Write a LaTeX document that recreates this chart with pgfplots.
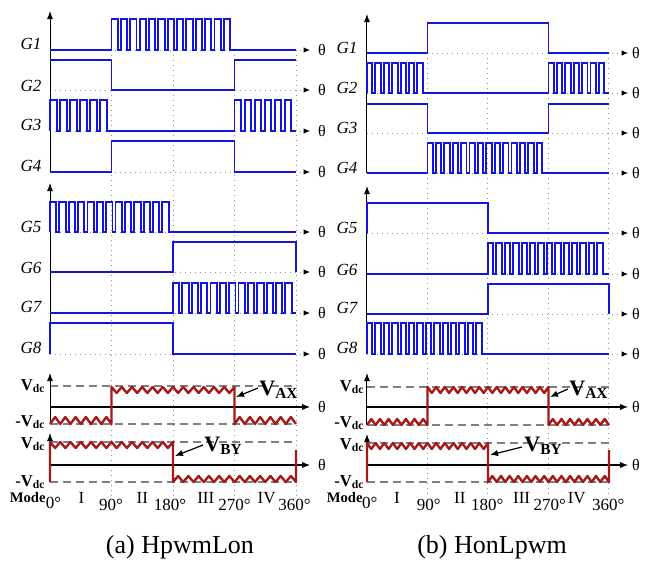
\documentclass[border=0pt]{standalone}
\usepackage{fontspec}
\setmainfont{Liberation Serif}
\usepackage{pgfplots}
\pgfplotsset{compat=1.18}
\usetikzlibrary{arrows.meta}
\definecolor{sigblue}{RGB}{20,20,225}
\definecolor{vred}{RGB}{165,25,25}
\pgfplotsset{
  panel/.style={scale only axis, width=162.5pt, height=281.5pt, ymin=0, ymax=563, y dir=reverse, axis lines=none, clip=false},
  sg/.style={draw=sigblue, line width=0.95pt, const plot, mark=none},
  vw/.style={draw=vred, line width=1.2pt, mark=none, line join=round},
  dl/.style={draw=gray!85, line width=0.5pt, dotted, mark=none},
  dashl/.style={draw=gray, line width=0.7pt, dash pattern=on 4pt off 2.5pt, mark=none},
  ax/.style={draw=black, line width=0.5pt, mark=none, -{Latex[length=4pt,width=3pt]}},
  tharr/.style={dl, -{Latex[length=3.2pt,width=2.8pt,color=black]}},
  zarr/.style={draw=black, line width=0.6pt, mark=none, -{Latex[length=4pt,width=3.2pt]}},
}
\newcommand\gf{\fontsize{8.5}{10}\selectfont\itshape}
\newcommand\tf{\fontsize{8}{9}\selectfont}
\newcommand\vf{\fontsize{8.3}{9}\selectfont\bfseries}
\newcommand\modef{\fontsize{7.3}{9}\selectfont\bfseries}
\newcommand\bigv{\fontsize{11}{12}\selectfont\bfseries}
\newcommand\mf{\fontsize{8.5}{10}\selectfont}
\newcommand\capf{\fontsize{13}{15}\selectfont}
\begin{document}
\begin{tikzpicture}
\useasboundingbox (0,0) rectangle (325pt,281.5pt);
%%%%%%%%%%%%%%%%%%%%%%%%%% LEFT PANEL
\begin{axis}[panel, at={(0pt,0pt)}, anchor=south west, xmin=-73.17, xmax=402.4]
\addplot[dl] coordinates {(90,50)(90,497)};
\addplot[dl] coordinates {(180,50)(180,497)};
\addplot[dl] coordinates {(270,50)(270,497)};
\addplot[dl] coordinates {(360,50)(360,497)};
\addplot[tharr] coordinates {(0,50)(380.5,50)};
\addplot[tharr] coordinates {(0,90)(380.5,90)};
\addplot[tharr] coordinates {(0,131)(380.5,131)};
\addplot[tharr] coordinates {(0,172)(380.5,172)};
\addplot[tharr] coordinates {(0,232)(380.5,232)};
\addplot[tharr] coordinates {(0,272)(380.5,272)};
\addplot[tharr] coordinates {(0,313)(380.5,313)};
\addplot[tharr] coordinates {(0,354)(380.5,354)};
\addplot[dashl] coordinates {(0,386)(360,386)};
\addplot[dashl] coordinates {(0,424)(360,424)};
\addplot[dashl] coordinates {(0,442)(360,442)};
\addplot[dashl] coordinates {(0,482)(360,482)};
\addplot[ax] coordinates {(0,173)(0,11)};
\addplot[ax] coordinates {(0,354)(0,183)};
\addplot[ax] coordinates {(0,424)(0,373)};
\addplot[ax] coordinates {(0,482)(0,433)};
\addplot[zarr] coordinates {(0,407)(380.5,407)};
\addplot[zarr] coordinates {(0,465)(380.5,465)};
% G1
\addplot[sg] coordinates {(0,50)(90,19)(99.2,50)(103.7,19)(112.9,50)(117.4,19)(126.6,50)(131.1,19)(140.3,50)(144.8,19)(154,50)(158.5,19)(167.7,50)(172.2,19)(181.4,50)(185.9,19)(195.1,50)(199.6,19)(208.8,50)(213.3,19)(222.5,50)(227,19)(236.2,50)(240.7,19)(249.9,50)(254.4,19)(263.6,50)(360,50)};
% G2
\addplot[sg] coordinates {(0,60)(90,90)(270,60)(360,60)};
% G3
\addplot[sg] coordinates {(0,131)(0,100)(9.6,131)(14.7,100)(24.3,131)(29.4,100)(39,131)(44.1,100)(53.7,131)(58.8,100)(68.4,131)(73.5,100)(83.1,131)(270,100)(279.6,131)(284.7,100)(294.3,131)(299.4,100)(309,131)(314.1,100)(323.7,131)(328.8,100)(338.4,131)(343.5,100)(353.1,131)(360,131)};
% G4
\addplot[sg] coordinates {(0,172)(90,141)(270,172)(360,172)};
% G5
\addplot[sg] coordinates {(0,232)(0,202)(9.2,232)(13.7,202)(22.9,232)(27.4,202)(36.6,232)(41.1,202)(50.3,232)(54.8,202)(64,232)(68.5,202)(77.7,232)(82.2,202)(91.4,232)(95.9,202)(105.1,232)(109.6,202)(118.8,232)(123.3,202)(132.5,232)(137,202)(146.2,232)(150.7,202)(159.9,232)(164.4,202)(173.6,232)(360,232)};
% G6
\addplot[sg] coordinates {(0,272)(180,242)(360,272)};
% G7
\addplot[sg] coordinates {(0,313)(180,283)(189.2,313)(193.7,283)(202.9,313)(207.4,283)(216.6,313)(221.1,283)(230.3,313)(234.8,283)(244,313)(248.5,283)(257.7,313)(262.2,283)(271.4,313)(275.9,283)(285.1,313)(289.6,283)(298.8,313)(303.3,283)(312.5,313)(317,283)(326.2,313)(330.7,283)(339.9,313)(344.4,283)(353.6,313)(360,313)};
% G8
\addplot[sg] coordinates {(0,354)(0,323)(180,354)(360,354)};
% VAX
\addplot[vw] coordinates {(0,424)(7.5,417)(15,424)(22.5,417)(30,424)(37.5,417)(45,424)(52.5,417)(60,424)(67.5,417)(75,424)(82.5,417)(90,424)(90,387)(97.5,393)(105,387)(112.5,393)(120,387)(127.5,393)(135,387)(142.5,393)(150,387)(157.5,393)(165,387)(172.5,393)(180,387)(187.5,393)(195,387)(202.5,393)(210,387)(217.5,393)(225,387)(232.5,393)(240,387)(247.5,393)(255,387)(262.5,393)(270,387)(270,424)(277.5,417)(285,424)(292.5,417)(300,424)(307.5,417)(315,424)(322.5,417)(330,424)(337.5,417)(345,424)(352.5,417)(360,424)};
% VBY
\addplot[vw] coordinates {(0,482)(0,442)(7.5,448)(15,442)(22.5,448)(30,442)(37.5,448)(45,442)(52.5,448)(60,442)(67.5,448)(75,442)(82.5,448)(90,442)(97.5,448)(105,442)(112.5,448)(120,442)(127.5,448)(135,442)(142.5,448)(150,442)(157.5,448)(165,442)(172.5,448)(180,442)(180,482)(187.5,476)(195,482)(202.5,476)(210,482)(217.5,476)(225,482)(232.5,476)(240,482)(247.5,476)(255,482)(262.5,476)(270,482)(277.5,476)(285,482)(292.5,476)(300,482)(307.5,476)(315,482)(322.5,476)(330,482)(337.5,476)(345,482)(352.5,476)(360,482)(360,450)};
\addplot[zarr] coordinates {(304.4,388)(272.2,397)};
\addplot[zarr] coordinates {(223.9,445)(182.9,456)};
\node[font=\gf] at (axis cs:-27.8,44) {G1};
\node[font=\gf] at (axis cs:-27.8,86) {G2};
\node[font=\gf] at (axis cs:-27.8,125) {G3};
\node[font=\gf] at (axis cs:-27.8,166) {G4};
\node[font=\gf] at (axis cs:-27.8,227) {G5};
\node[font=\gf] at (axis cs:-27.8,268) {G6};
\node[font=\gf] at (axis cs:-27.8,307) {G7};
\node[font=\gf] at (axis cs:-27.8,348) {G8};
\node[font=\tf] at (axis cs:398,50) {θ};
\node[font=\tf] at (axis cs:398,90) {θ};
\node[font=\tf] at (axis cs:398,131) {θ};
\node[font=\tf] at (axis cs:398,172) {θ};
\node[font=\tf] at (axis cs:398,232) {θ};
\node[font=\tf] at (axis cs:398,272) {θ};
\node[font=\tf] at (axis cs:398,313) {θ};
\node[font=\tf] at (axis cs:398,354) {θ};
\node[font=\tf] at (axis cs:398,407) {θ};
\node[font=\tf] at (axis cs:398,465) {θ};
\node[font=\vf, anchor=east, inner sep=0pt] at (axis cs:-5.9,386) {V\textsubscript{dc}};
\node[font=\vf, anchor=east, inner sep=0pt] at (axis cs:-5.9,422) {-V\textsubscript{dc}};
\node[font=\vf, anchor=east, inner sep=0pt] at (axis cs:-5.9,444) {V\textsubscript{dc}};
\node[font=\vf, anchor=east, inner sep=0pt] at (axis cs:-5.9,482) {-V\textsubscript{dc}};
\node[font=\bigv, anchor=west, inner sep=0pt] at (axis cs:305.9,390) {V\textsubscript{AX}};
\node[font=\bigv, anchor=west, inner sep=0pt] at (axis cs:225.4,446) {V\textsubscript{BY}};
\node[font=\modef, anchor=east, inner sep=0pt] at (axis cs:-6,498) {Mode};
\node[font=\mf] at (axis cs:5,503) {0°};
\node[font=\mf] at (axis cs:89.3,505) {90°};
\node[font=\mf] at (axis cs:175.6,505) {180°};
\node[font=\mf] at (axis cs:270,505) {270°};
\node[font=\mf] at (axis cs:357.8,505) {360°};
\node[font=\mf] at (axis cs:46,498) {I};
\node[font=\mf] at (axis cs:135,498) {II};
\node[font=\mf] at (axis cs:228,498) {III};
\node[font=\mf] at (axis cs:317,498) {IV};
\node[font=\capf] at (axis cs:190.2,547) {(a) HpwmLon};
\end{axis}
%%%%%%%%%%%%%%%%%%%%%%%%%% RIGHT PANEL
\begin{axis}[panel, at={(162.5pt,0pt)}, anchor=south west, xmin=-62.48, xmax=421.0]
\addplot[dl] coordinates {(90,53)(90,497)};
\addplot[dl] coordinates {(180,53)(180,497)};
\addplot[dl] coordinates {(270,53)(270,497)};
\addplot[dl] coordinates {(360,53)(360,497)};
\addplot[tharr] coordinates {(0,53)(388.3,53)};
\addplot[tharr] coordinates {(0,93)(388.3,93)};
\addplot[tharr] coordinates {(0,133)(388.3,133)};
\addplot[tharr] coordinates {(0,173)(388.3,173)};
\addplot[tharr] coordinates {(0,233)(388.3,233)};
\addplot[tharr] coordinates {(0,274)(388.3,274)};
\addplot[tharr] coordinates {(0,314)(388.3,314)};
\addplot[tharr] coordinates {(0,354)(388.3,354)};
\addplot[dashl] coordinates {(0,387)(360,387)};
\addplot[dashl] coordinates {(0,425)(360,425)};
\addplot[dashl] coordinates {(0,443)(360,443)};
\addplot[dashl] coordinates {(0,482)(360,482)};
\addplot[ax] coordinates {(0,173)(0,14)};
\addplot[ax] coordinates {(0,354)(0,186)};
\addplot[ax] coordinates {(0,425)(0,373)};
\addplot[ax] coordinates {(0,482)(0,434)};
\addplot[zarr] coordinates {(0,407)(388.3,407)};
\addplot[zarr] coordinates {(0,465)(388.3,465)};
% G1
\addplot[sg] coordinates {(0,53)(90,23)(270,53)(360,53)};
% G2
\addplot[sg] coordinates {(0,93)(0,63)(8,93)(12.5,63)(20.5,93)(25,63)(33,93)(37.5,63)(45.5,93)(50,63)(58,93)(62.5,63)(70.5,93)(75,63)(83,93)(270,63)(278,93)(282.5,63)(290.5,93)(295,63)(303,93)(307.5,63)(315.5,93)(320,63)(328,93)(332.5,63)(340.5,93)(345,63)(353,93)(360,93)};
% G3
\addplot[sg] coordinates {(0,104)(90,133)(270,104)(360,104)};
% G4
\addplot[sg] coordinates {(0,173)(90,143)(98,173)(102.5,143)(110.5,173)(115,143)(123,173)(127.5,143)(135.5,173)(140,143)(148,173)(152.5,143)(160.5,173)(165,143)(173,173)(177.5,143)(185.5,173)(190,143)(198,173)(202.5,143)(210.5,173)(215,143)(223,173)(227.5,143)(235.5,173)(240,143)(248,173)(252.5,143)(260.5,173)(360,173)};
% G5
\addplot[sg] coordinates {(0,233)(0,203)(180,233)(360,233)};
% G6
\addplot[sg] coordinates {(0,274)(180,243)(188,274)(192.5,243)(200.5,274)(205,243)(213,274)(217.5,243)(225.5,274)(230,243)(238,274)(242.5,243)(250.5,274)(255,243)(263,274)(267.5,243)(275.5,274)(280,243)(288,274)(292.5,243)(300.5,274)(305,243)(313,274)(317.5,243)(325.5,274)(330,243)(338,274)(342.5,243)(350.5,274)(360,274)};
% G7
\addplot[sg] coordinates {(0,314)(180,284)(360,314)};
% G8
\addplot[sg] coordinates {(0,354)(0,323)(8,354)(12.5,323)(20.5,354)(25,323)(33,354)(37.5,323)(45.5,354)(50,323)(58,354)(62.5,323)(70.5,354)(75,323)(83,354)(87.5,323)(95.5,354)(100,323)(108,354)(112.5,323)(120.5,354)(125,323)(133,354)(137.5,323)(145.5,354)(150,323)(158,354)(162.5,323)(170.5,354)(360,354)};
% VAX
\addplot[vw] coordinates {(0,425)(6.43,419)(12.86,425)(19.29,419)(25.71,425)(32.14,419)(38.57,425)(45,419)(51.43,425)(57.86,419)(64.29,425)(70.71,419)(77.14,425)(83.57,419)(90,425)(90,387)(96.43,393)(102.86,387)(109.29,393)(115.71,387)(122.14,393)(128.57,387)(135,393)(141.43,387)(147.86,393)(154.29,387)(160.71,393)(167.14,387)(173.57,393)(180,387)(186.43,393)(192.86,387)(199.29,393)(205.71,387)(212.14,393)(218.57,387)(225,393)(231.43,387)(237.86,393)(244.29,387)(250.71,393)(257.14,387)(263.57,393)(270,387)(270,425)(276.43,419)(282.86,425)(289.29,419)(295.71,425)(302.14,419)(308.57,425)(315,419)(321.43,425)(327.86,419)(334.29,425)(340.71,419)(347.14,425)(353.57,419)(360,425)};
% VBY
\addplot[vw] coordinates {(0,482)(0,443)(6.43,449)(12.86,443)(19.29,449)(25.71,443)(32.14,449)(38.57,443)(45,449)(51.43,443)(57.86,449)(64.29,443)(70.71,449)(77.14,443)(83.57,449)(90,443)(96.43,449)(102.86,443)(109.29,449)(115.71,443)(122.14,449)(128.57,443)(135,449)(141.43,443)(147.86,449)(154.29,443)(160.71,449)(167.14,443)(173.57,449)(180,443)(180,482)(186.43,476)(192.86,482)(199.29,476)(205.71,482)(212.14,476)(218.57,482)(225,476)(231.43,482)(237.86,476)(244.29,482)(250.71,476)(257.14,482)(263.57,476)(270,482)(276.43,476)(282.86,482)(289.29,476)(295.71,482)(302.14,476)(308.57,482)(315,476)(321.43,482)(327.86,476)(334.29,482)(340.71,476)(347.14,482)(353.57,476)(360,482)(360,450)};
\addplot[zarr] coordinates {(299.0,389)(272.2,397)};
\addplot[zarr] coordinates {(230.6,447)(183.0,455)};
\node[font=\gf] at (axis cs:-29.8,48) {G1};
\node[font=\gf] at (axis cs:-29.8,88) {G2};
\node[font=\gf] at (axis cs:-29.8,128) {G3};
\node[font=\gf] at (axis cs:-29.8,168) {G4};
\node[font=\gf] at (axis cs:-29.8,228) {G5};
\node[font=\gf] at (axis cs:-29.8,270) {G6};
\node[font=\gf] at (axis cs:-29.8,308) {G7};
\node[font=\gf] at (axis cs:-29.8,348) {G8};
\node[font=\tf] at (axis cs:400.2,53) {θ};
\node[font=\tf] at (axis cs:400.2,93) {θ};
\node[font=\tf] at (axis cs:400.2,133) {θ};
\node[font=\tf] at (axis cs:400.2,173) {θ};
\node[font=\tf] at (axis cs:400.2,233) {θ};
\node[font=\tf] at (axis cs:400.2,274) {θ};
\node[font=\tf] at (axis cs:400.2,314) {θ};
\node[font=\tf] at (axis cs:400.2,354) {θ};
\node[font=\tf] at (axis cs:400.2,407) {θ};
\node[font=\tf] at (axis cs:400.2,465) {θ};
\node[font=\vf, anchor=east, inner sep=0pt] at (axis cs:-3,387) {V\textsubscript{dc}};
\node[font=\vf, anchor=east, inner sep=0pt] at (axis cs:-3,423) {-V\textsubscript{dc}};
\node[font=\vf, anchor=east, inner sep=0pt] at (axis cs:-3,445) {V\textsubscript{dc}};
\node[font=\vf, anchor=east, inner sep=0pt] at (axis cs:-3,482) {-V\textsubscript{dc}};
\node[font=\bigv, anchor=west, inner sep=0pt] at (axis cs:300.5,390) {V\textsubscript{AX}};
\node[font=\bigv, anchor=west, inner sep=0pt] at (axis cs:233.6,446) {V\textsubscript{BY}};
\node[font=\modef, anchor=east, inner sep=0pt] at (axis cs:-6,498) {Mode};
\node[font=\mf] at (axis cs:4,503) {0°};
\node[font=\mf] at (axis cs:92,505) {90°};
\node[font=\mf] at (axis cs:179,505) {180°};
\node[font=\mf] at (axis cs:272,505) {270°};
\node[font=\mf] at (axis cs:359,505) {360°};
\node[font=\mf] at (axis cs:44.6,498) {I};
\node[font=\mf] at (axis cs:138,498) {II};
\node[font=\mf] at (axis cs:230,498) {III};
\node[font=\mf] at (axis cs:312,498) {IV};
\node[font=\capf] at (axis cs:186,547) {(b) HonLpwm};
\end{axis}
\end{tikzpicture}
\end{document}
